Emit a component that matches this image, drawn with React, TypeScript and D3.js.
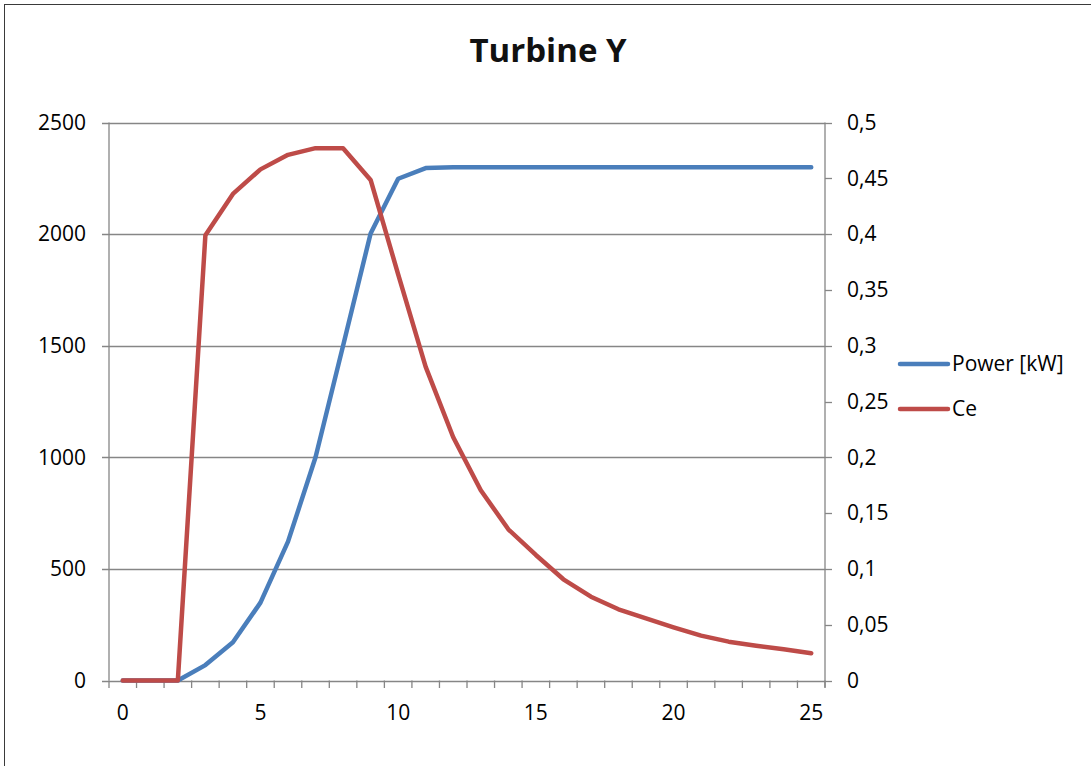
import React from "react";
import * as d3 from "d3";

const windSpeeds = d3.range(0, 26);
const powerKW = [0, 0, 0, 69, 171, 349, 622, 1000, 1500, 2003, 2248, 2296, 2300, 2300, 2300, 2300, 2300, 2300, 2300, 2300, 2300, 2300, 2300, 2300, 2300, 2300];
const ceValues = [0, 0, 0, 0.399, 0.436, 0.458, 0.471, 0.477, 0.477, 0.4485, 0.364, 0.281, 0.218, 0.1705, 0.1355, 0.1125, 0.0907, 0.0751, 0.0638, 0.0557, 0.0477, 0.0402, 0.0348, 0.0312, 0.028, 0.0244];
const leftTicks = [0, 500, 1000, 1500, 2000, 2500];
const rightTicks = [0, 0.05, 0.1, 0.15, 0.2, 0.25, 0.3, 0.35, 0.4, 0.45, 0.5];
const xLabelTicks = [0, 5, 10, 15, 20, 25];
const seriesNames = ["Power [kW]", "Ce"];
const title = "Turbine Y";

const W = 1091, H = 766;
const L = 109, R = 825, T = 122.5, B = 680.5;
const FONT = "'Open Sans', 'Noto Sans', sans-serif";
const BLUE = "#4a7ebb", RED = "#be4b48", GRID = "#868686";

export default function App() {
  const x = d3.scaleBand<number>().domain(windSpeeds).range([L, R]).padding(0);
  const cx = (v: number) => (x(v) as number) + x.bandwidth() / 2;
  const yL = d3.scaleLinear().domain([0, 2500]).range([B, T]);
  const yR = d3.scaleLinear().domain([0, 0.5]).range([B, T]);
  const powerLine = d3.line<number>().x((_, i) => cx(windSpeeds[i])).y((d) => yL(d));
  const ceLine = d3.line<number>().x((_, i) => cx(windSpeeds[i])).y((d) => yR(d));
  const fmtR = (v: number) => d3.format("~g")(+v.toFixed(2)).replace(".", ",");
  const boundaries = d3.range(0, windSpeeds.length + 1).map((i) => L + i * x.bandwidth());

  return (
    <svg width={W} height={H} style={{ position: "absolute", left: 0, top: 0, background: "#fff" }} fontFamily={FONT}>
      <rect x={4.5} y={4.5} width={W + 20} height={H + 20} fill="#fff" stroke="#3a3a3a" strokeWidth={1} />
      <text x={548} y={62} textAnchor="middle" fontSize={33} fontWeight="bold" fill="#111">{title}</text>
      {leftTicks.map((t) => (
        <line key={"g" + t} x1={L - 7} x2={R} y1={Math.round(yL(t)) + 0.5} y2={Math.round(yL(t)) + 0.5} stroke={GRID} strokeWidth={1.3} />
      ))}
      <line x1={L} x2={L} y1={T} y2={B} stroke={GRID} strokeWidth={1.3} />
      <line x1={R} x2={R} y1={T} y2={B + 7} stroke={GRID} strokeWidth={1.3} />
      {rightTicks.map((t) => (
        <line key={"rt" + t} x1={R} x2={R + 7} y1={Math.round(yR(t)) + 0.5} y2={Math.round(yR(t)) + 0.5} stroke={GRID} strokeWidth={1.3} />
      ))}
      {boundaries.map((b, i) => (
        <line key={"bt" + i} x1={b} x2={b} y1={B} y2={B + 7.5} stroke={GRID} strokeWidth={1.3} />
      ))}
      {leftTicks.map((t) => (
        <text key={"ll" + t} x={86} y={yL(t)} dy="0.35em" textAnchor="end" fontSize={21} fill="#000">{t}</text>
      ))}
      {rightTicks.map((t) => (
        <text key={"rl" + t} x={847} y={yR(t)} dy="0.35em" textAnchor="start" fontSize={21} fill="#000">{fmtR(t)}</text>
      ))}
      {xLabelTicks.map((t) => (
        <text key={"xl" + t} x={cx(t)} y={720} textAnchor="middle" fontSize={21} fill="#000">{t}</text>
      ))}
      <path d={powerLine(powerKW) as string} fill="none" stroke={BLUE} strokeWidth={4.5} strokeLinejoin="round" strokeLinecap="round" />
      <path d={ceLine(ceValues) as string} fill="none" stroke={RED} strokeWidth={4.5} strokeLinejoin="round" strokeLinecap="round" />
      {seriesNames.map((n, i) => (
        <g key={n} transform={`translate(0, ${364 + i * 45})`}>
          <line x1={900} x2={948} y1={0} y2={0} stroke={i === 0 ? BLUE : RED} strokeWidth={4.5} strokeLinecap="round" />
          <text x={952} y={0} dy="0.35em" fontSize={21} fill="#000">{n}</text>
        </g>
      ))}
    </svg>
  );
}
